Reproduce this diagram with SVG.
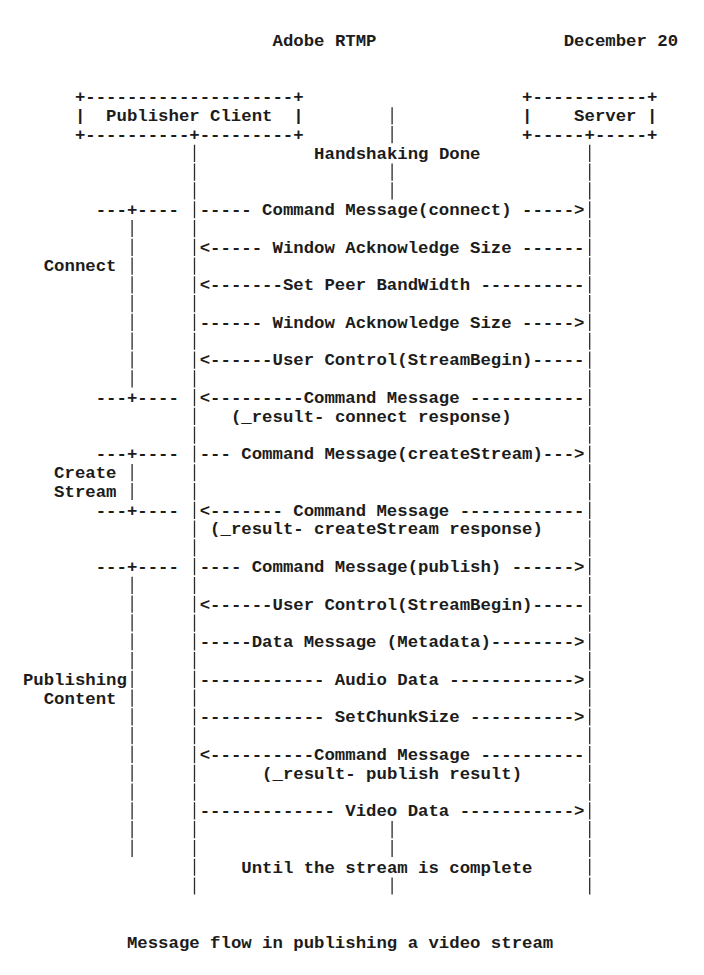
<svg xmlns="http://www.w3.org/2000/svg" width="704" height="975" viewBox="0 0 704 975" xml:space="preserve">
<style>
text{font-family:"Liberation Mono","Courier New",monospace;font-size:17.33px;font-weight:bold;fill:#1c1c1c;white-space:pre}
.v{stroke:#2a2a2a;stroke-width:1.3;stroke-dasharray:17.2 1.586;fill:none}
</style>
<rect width="704" height="975" fill="#ffffff"/>
<g id="header"><text x="272.5" y="45.9">Adobe RTMP</text><text x="563.7" y="45.9">December 20</text></g>
<g id="publisher-client"><text x="74.9" y="102.3">+--------------------+</text><text x="74.9" y="121.1">|  Publisher Client  |</text><text x="74.9" y="139.9">+----------+---------+</text></g>
<g id="server"><text x="522.1" y="102.3">+-----------+</text><text x="522.1" y="121.1">|    Server |</text><text x="522.1" y="139.9">+-----+-----+</text></g>
<g id="lifelines">
<line class="v" x1="194.5" y1="144.8" x2="194.5" y2="894.6"/>
<line class="v" x1="589.7" y1="144.8" x2="589.7" y2="894.6"/>
<line class="v" x1="392.1" y1="107.2" x2="392.1" y2="143.2"/>
<line class="v" x1="392.1" y1="163.5" x2="392.1" y2="199.6"/>
<line class="v" x1="392.1" y1="821.1" x2="392.1" y2="857.0"/>
<line class="v" x1="392.1" y1="877.4" x2="392.1" y2="894.6"/>
</g>
<g id="connectors">
<text x="314.1" y="158.7">Handshaking Done</text>
<text x="199.7" y="215.0">----- Command Message(connect) -----&gt;</text>
<text x="199.7" y="252.6">&lt;----- Window Acknowledge Size ------</text>
<text x="199.7" y="290.2">&lt;-------Set Peer BandWidth ----------</text>
<text x="199.7" y="327.7">------ Window Acknowledge Size -----&gt;</text>
<text x="199.7" y="365.3">&lt;------User Control(StreamBegin)-----</text>
<text x="199.7" y="402.9">&lt;---------Command Message -----------</text>
<text x="230.9" y="421.7">(_result- connect response)</text>
<text x="199.7" y="459.2">--- Command Message(createStream)---&gt;</text>
<text x="199.7" y="515.6">&lt;------- Command Message ------------</text>
<text x="210.1" y="534.4">(_result- createStream response)</text>
<text x="199.7" y="572.0">---- Command Message(publish) ------&gt;</text>
<text x="199.7" y="609.5">&lt;------User Control(StreamBegin)-----</text>
<text x="199.7" y="647.1">-----Data Message (Metadata)--------&gt;</text>
<text x="199.7" y="684.7">------------ Audio Data ------------&gt;</text>
<text x="199.7" y="722.2">------------ SetChunkSize ----------&gt;</text>
<text x="199.7" y="759.8">&lt;----------Command Message ----------</text>
<text x="262.1" y="778.6">(_result- publish result)</text>
<text x="199.7" y="816.2">------------- Video Data -----------&gt;</text>
<text x="241.3" y="872.5">Until the stream is complete</text>
</g>
<g id="phase-connect">
<text x="95.7" y="215.0">---+----</text>
<line class="v" x1="132.1" y1="219.9" x2="132.1" y2="387.4"/>
<text x="43.7" y="271.4">Connect</text>
<text x="95.7" y="402.9">---+----</text>
</g>
<g id="phase-create-stream">
<text x="95.7" y="459.2">---+----</text>
<line class="v" x1="132.1" y1="464.1" x2="132.1" y2="500.1"/>
<text x="54.1" y="478.0">Create</text>
<text x="54.1" y="496.8">Stream</text>
<text x="95.7" y="515.6">---+----</text>
</g>
<g id="phase-publishing">
<text x="95.7" y="572.0">---+----</text>
<line class="v" x1="132.1" y1="576.8" x2="132.1" y2="857.0"/>
<text x="22.9" y="684.7">Publishing</text>
<text x="43.7" y="703.5">Content</text>
</g>
<g id="caption"><text x="126.9" y="947.7">Message flow in publishing a video stream</text></g>
</svg>
